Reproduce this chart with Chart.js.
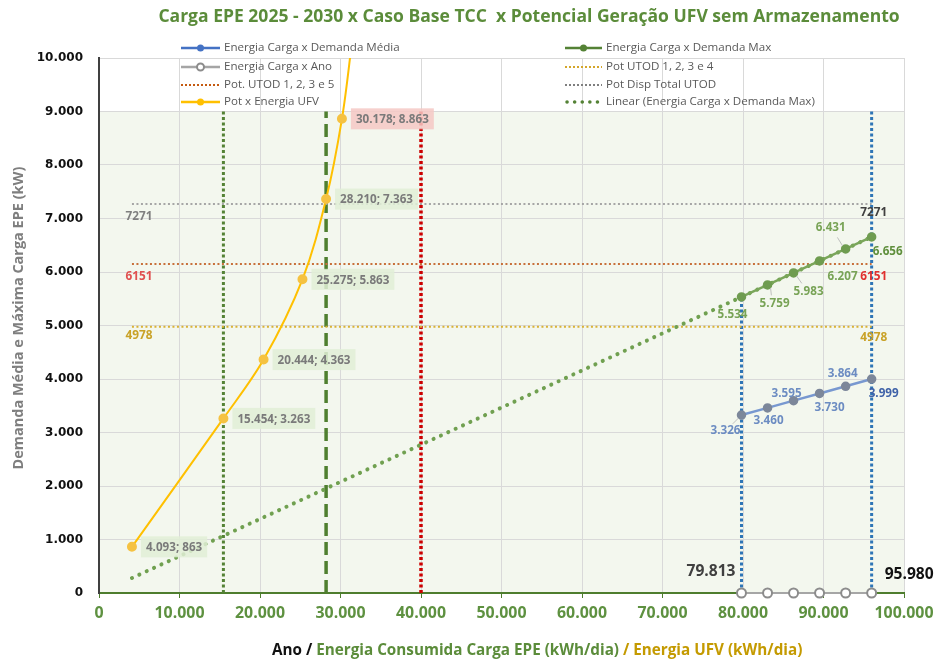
<!DOCTYPE html>
<html><head><meta charset="utf-8">
<script src="https://cdn.jsdelivr.net/npm/chart.js@4.4.1/dist/chart.umd.min.js"></script>
<style>html,body{margin:0;padding:0;background:#fff;}canvas{display:block}</style>
</head><body>
<canvas id="c" width="936" height="661" style="width:936px;height:661px"></canvas>
<script>
// ---------- DATA ----------
const energiaCarga = [79813, 83050, 86280, 89510, 92750, 95980];   // kWh/dia
const demandaMedia = [3326, 3460, 3595, 3730, 3864, 3999];         // kW
const demandaMax   = [5534, 5759, 5983, 6207, 6431, 6656];         // kW
const anoY         = [0, 0, 0, 0, 0, 0];
const energiaUFV   = [4093, 15454, 20444, 25275, 28210, 30178, 31480];
const potUFV       = [863, 3263, 4363, 5863, 7363, 8863, 10363];
const trendX       = [4093, 95980];
const trendY       = [280, 6656];
const potDispTotalUTOD = 7271;
const potUTOD1235  = 6151;
const potUTOD1234  = 4978;
const refLineX     = [4093, 95980];
const vGreenDot    = 15454;
const vGreenDash   = 28210;
const vRed         = 40000;
const bandTop      = 9000;
const xTickValues  = [0,10000,20000,30000,40000,50000,60000,70000,80000,90000,100000];
const yTickValues  = [0,1000,2000,3000,4000,5000,6000,7000,8000,9000,10000];
const titleText = 'Carga EPE 2025 - 2030 x Caso Base TCC  x Potencial Geração UFV sem Armazenamento';
const yTitleText = 'Demanda Média e Máxima Carga EPE (kW)';
const xTitleParts = [['Ano / ', '#111111'], ['Energia Consumida Carga EPE (kWh/dia)', '#5b8c3a'], [' / Energia UFV (kWh/dia)', '#c49a00']];

// ---------- helpers ----------
const fmt = v => String(Math.round(v)).replace(/\B(?=(\d{3})+(?!\d))/g, '.');
const CAL = "'Open Sans', 'Noto Sans', sans-serif";
const mctx = document.createElement('canvas').getContext('2d');
function fit(text, weight, target, family) {
  mctx.font = weight + ' 100px ' + (family || CAL);
  return 100 * target / mctx.measureText(text).width;
}
const P = (xs, ys) => xs.map((x, i) => ({x: x, y: ys[i]}));

const sTitle  = fit(titleText, 'bold', 742);
const sYTitle = fit(yTitleText, 'bold', 303);
const sXTitle = fit(xTitleParts.map(p => p[0]).join(''), 'bold', 531);
const sLegend = fit('Energia Carga x Demanda Média', 'normal', 176);
const sXTick  = fit('50.000', 'bold', 50);
const sYellow = fit('28.210; 7.363', 'bold', 73);
const sVal    = fit('5.534', 'bold', 30);
const sBig    = fit('79.813', 'bold', 49);
const sRef    = fit('7271', 'bold', 27);

// ---------- plugins ----------
const bgPlugin = {
  id: 'bg',
  beforeDraw(chart) {
    const {ctx, scales: {x, y}} = chart;
    ctx.save();
    ctx.fillStyle = '#ffffff';
    ctx.fillRect(0, 0, chart.width, chart.height);
    ctx.fillStyle = '#f3f7ee';
    const top = y.getPixelForValue(bandTop), bot = y.getPixelForValue(0);
    ctx.fillRect(x.getPixelForValue(0), top, x.getPixelForValue(100000) - x.getPixelForValue(0), bot - top);
    ctx.restore();
  }
};

function txt(ctx, s, x, y, font, color, align, base) {
  ctx.font = font; ctx.fillStyle = color;
  ctx.textAlign = align || 'left'; ctx.textBaseline = base || 'middle';
  ctx.fillText(s, x, y);
}

const overlayPlugin = {
  id: 'overlay',
  afterDraw(chart) {
    const {ctx, scales: {x, y}} = chart;
    const px = v => x.getPixelForValue(v), py = v => y.getPixelForValue(v);
    ctx.save();

    // yellow point labels
    ctx.font = 'bold ' + sYellow + 'px ' + CAL;
    for (let i = 0; i < 6; i++) {
      const s = fmt(energiaUFV[i]) + '; ' + fmt(potUFV[i]);
      const w = ctx.measureText(s).width;
      const bx = px(energiaUFV[i]) + 9, by = py(potUFV[i]);
      ctx.fillStyle = i === 5 ? 'rgba(244,200,196,0.85)' : 'rgba(224,238,214,0.85)';
      ctx.fillRect(bx, by - 10.5, w + 10, 21);
      txt(ctx, s, bx + 5, by + 1, 'bold ' + sYellow + 'px ' + CAL, '#7a7a7a');
    }

    // value labels for blue and green series
    const blueOff  = [[-16, 16, 1], [1, 13], [-7, -7], [10, 14], [-3, -13], [12, 15]];
    const greenOff = [[-9, 18], [7, 19, 1], [15, 19, 1], [23, 16], [-15, -21, 1], [16, 15]];
    const drawVals = (vals, offs, color, lastColor) => {
      for (let i = 0; i < vals.length; i++) {
        const X = px(energiaCarga[i]), Y = py(vals[i]);
        const o = offs[i];
        if (o[2]) {
          ctx.strokeStyle = '#bfbfbf'; ctx.lineWidth = 1; ctx.setLineDash([]);
          const lx = X + o[0] * 0.55, ly = Y + o[1] * 0.55;
          ctx.beginPath(); ctx.moveTo(X + Math.sign(o[0]) * 3, Y + Math.sign(o[1]) * 3); ctx.lineTo(lx, ly); ctx.stroke();
        }
        txt(ctx, fmt(vals[i]), X + o[0], Y + o[1], 'bold ' + sVal + 'px ' + CAL, i === vals.length - 1 ? lastColor : color, 'center');
      }
    };
    drawVals(demandaMedia, blueOff, '#6c8cc2', '#3f62a8');
    drawVals(demandaMax, greenOff, '#78a356', '#5f8f3c');

    // reference line labels
    const refs = [[potDispTotalUTOD, '#7f7f7f', '#404040', 13, 9], [potUTOD1235, '#e05050', '#e0302f', 13, 13], [potUTOD1234, '#c9a227', '#c9a227', 9, 11]];
    refs.forEach(r => {
      const f = 'bold ' + sRef + 'px ' + CAL;
      txt(ctx, String(r[0]), px(refLineX[0]) + 7, py(r[0]) + r[3], f, r[1], 'center');
      txt(ctx, String(r[0]), px(refLineX[1]) + 2, py(r[0]) + r[4], f, r[2], 'center');
    });

    // energy labels near x axis
    txt(ctx, fmt(energiaCarga[0]), px(energiaCarga[0]) - 6, py(0) - 21, 'bold ' + sBig + 'px ' + CAL, '#404040', 'right');
    txt(ctx, fmt(energiaCarga[5]), px(energiaCarga[5]) + 13, py(0) - 18, 'bold ' + sBig + 'px ' + CAL, '#111111', 'left');

    // legend
    const lf = sLegend + 'px ' + CAL;
    const rows = [48, 67, 85, 102];
    const items = [
      [181, 220, 224, rows[0], 'line', '#4472c4', 'Energia Carga x Demanda Média'],
      [565, 602, 606, rows[0], 'line', '#548235', 'Energia Carga x Demanda Max'],
      [181, 220, 224, rows[1], 'hollow', '#a5a5a5', 'Energia Carga x Ano'],
      [565, 602, 606, rows[1], 'dot', '#d4a62a', 'Pot UTOD 1, 2, 3 e 4'],
      [181, 220, 224, rows[2], 'dot', '#c55a11', 'Pot. UTOD 1, 2, 3 e 5'],
      [565, 602, 606, rows[2], 'dot', '#7f7f7f', 'Pot Disp Total UTOD'],
      [181, 220, 224, rows[3], 'line', '#ffc000', 'Pot x Energia UFV'],
      [565, 602, 606, rows[3], 'round', '#548235', 'Linear (Energia Carga x Demanda Max)']
    ];
    items.forEach(it => {
      const [x0, x1, tx, yy, kind, col, label] = it;
      ctx.save();
      ctx.strokeStyle = col; ctx.fillStyle = col;
      if (kind === 'line' || kind === 'hollow') {
        ctx.lineWidth = 2.5; ctx.setLineDash([]);
        ctx.beginPath(); ctx.moveTo(x0, yy); ctx.lineTo(x1, yy); ctx.stroke();
        ctx.beginPath(); ctx.arc((x0 + x1) / 2, yy, 3.5, 0, Math.PI * 2);
        if (kind === 'hollow') { ctx.fillStyle = '#fff'; ctx.fill(); ctx.lineWidth = 2; ctx.strokeStyle = '#8c8c8c'; ctx.stroke(); }
        else ctx.fill();
      } else if (kind === 'dot') {
        ctx.lineWidth = 2; ctx.setLineDash([2, 2]);
        ctx.beginPath(); ctx.moveTo(x0, yy); ctx.lineTo(x1, yy); ctx.stroke();
      } else {
        ctx.lineWidth = 3.5; ctx.lineCap = 'round'; ctx.setLineDash([0.1, 7.5]);
        ctx.beginPath(); ctx.moveTo(x0 + 2, yy); ctx.lineTo(x1, yy); ctx.stroke();
      }
      ctx.restore();
      txt(ctx, label, tx, yy, lf, '#595959', 'left');
    });

    // title
    txt(ctx, titleText, 529, 17, 'bold ' + sTitle + 'px ' + CAL, '#5b8c3a', 'center');

    // x axis title (multi-colour)
    ctx.font = 'bold ' + sXTitle + 'px ' + CAL;
    let cx = 272;
    xTitleParts.forEach(p => {
      txt(ctx, p[0], cx, 651, 'bold ' + sXTitle + 'px ' + CAL, p[1], 'left');
      cx += ctx.measureText(p[0]).width;
    });

    // y axis title
    ctx.save();
    ctx.translate(19, 318);
    ctx.rotate(-Math.PI / 2);
    txt(ctx, yTitleText, 0, 0, 'bold ' + sYTitle + 'px ' + CAL, '#7f7f7f', 'center');
    ctx.restore();

    ctx.restore();
  }
};

// ---------- chart ----------
const refDs = (data, color, width, dash, order) => ({
  data: data, showLine: true, borderColor: color, borderWidth: width, borderDash: dash,
  pointRadius: 0, order: order, fill: false
});

new Chart(document.getElementById('c'), {
  type: 'scatter',
  data: {
    datasets: [
      {label: 'Energia Carga x Demanda Média', data: P(energiaCarga, demandaMedia), showLine: true,
       borderColor: '#7898d0', borderWidth: 2.5, pointRadius: 3.5, pointBackgroundColor: '#7c879a', pointBorderColor: '#7c879a', order: 1},
      {label: 'Energia Carga x Demanda Max', data: P(energiaCarga, demandaMax), showLine: true,
       borderColor: '#7aa65a', borderWidth: 2.5, pointRadius: 3.5, pointBackgroundColor: '#6f9c50', pointBorderColor: '#6f9c50', order: 1},
      {label: 'Energia Carga x Ano', data: P(energiaCarga, anoY), showLine: true,
       borderColor: '#a6a6a6', borderWidth: 2, pointRadius: 4.5, pointBackgroundColor: '#ffffff', pointBorderColor: '#8c8c8c', pointBorderWidth: 2, clip: false, order: 0},
      {label: 'Pot x Energia UFV', data: P(energiaUFV, potUFV), showLine: true, tension: 0.35,
       borderColor: '#ffc000', borderWidth: 2, pointRadius: 4, pointBackgroundColor: '#f5c242', pointBorderColor: '#f5c242', order: 1},
      Object.assign(refDs(P(trendX, trendY), '#70a050', 4, [0.1, 8], 3), {borderCapStyle: 'round', label: 'Linear (Energia Carga x Demanda Max)'}),
      Object.assign(refDs(P(refLineX, [potDispTotalUTOD, potDispTotalUTOD]), '#a6a6a6', 2, [2, 2.5], 4), {label: 'Pot Disp Total UTOD'}),
      Object.assign(refDs(P(refLineX, [potUTOD1235, potUTOD1235]), '#c8703a', 2, [2, 2.5], 4), {label: 'Pot. UTOD 1, 2, 3 e 5'}),
      Object.assign(refDs(P(refLineX, [potUTOD1234, potUTOD1234]), '#d9b234', 2, [2, 2.5], 4), {label: 'Pot UTOD 1, 2, 3 e 4'}),
      refDs(P([vGreenDot, vGreenDot], [0, bandTop]), '#548235', 3, [3, 2.5], 5),
      refDs(P([vGreenDash, vGreenDash], [0, bandTop]), '#4f7f2f', 3.5, [13, 6], 5),
      refDs(P([vRed, vRed], [0, bandTop]), '#cc0000', 3.5, [3, 2.5], 5),
      refDs(P([energiaCarga[0], energiaCarga[0]], [0, demandaMax[0]]), '#2e75b6', 3, [3, 2.5], 5),
      refDs(P([energiaCarga[5], energiaCarga[5]], [0, bandTop]), '#2e75b6', 3, [3, 2.5], 5)
    ]
  },
  options: {
    responsive: false, animation: false, events: [],
    layout: {padding: {top: 58, right: 32, left: 0, bottom: 0}},
    plugins: {legend: {display: false}, tooltip: {enabled: false}, title: {display: false}},
    scales: {
      x: {
        type: 'linear', min: 0, max: 100000,
        afterBuildTicks: s => { s.ticks = xTickValues.map(v => ({value: v})); },
        ticks: {callback: v => fmt(v), color: '#5e9140', font: {family: CAL, size: sXTick, weight: 'bold'}, padding: 6, maxRotation: 0, autoSkip: false},
        grid: {color: '#d9d9d9', tickColor: '#4e7d2e', tickLength: 5, lineWidth: 1},
        border: {color: '#4e7d2e', width: 2},
        afterFit: s => { s.height = 68; s.paddingRight = 0; s.paddingLeft = 0; }
      },
      y: {
        min: 0, max: 10000,
        afterBuildTicks: s => { s.ticks = yTickValues.map(v => ({value: v})); },
        ticks: {callback: v => fmt(v), color: '#111111', font: {family: "'DejaVu Sans', sans-serif", size: 12, weight: 'bold'}, padding: 16, autoSkip: false},
        grid: {color: '#d9d9d9', drawTicks: false, lineWidth: 1},
        border: {color: '#404040', width: 2},
        afterFit: s => { s.width = 99; s.paddingTop = 0; s.paddingBottom = 0; }
      }
    }
  },
  plugins: [bgPlugin, overlayPlugin]
});
</script>
</body></html>
